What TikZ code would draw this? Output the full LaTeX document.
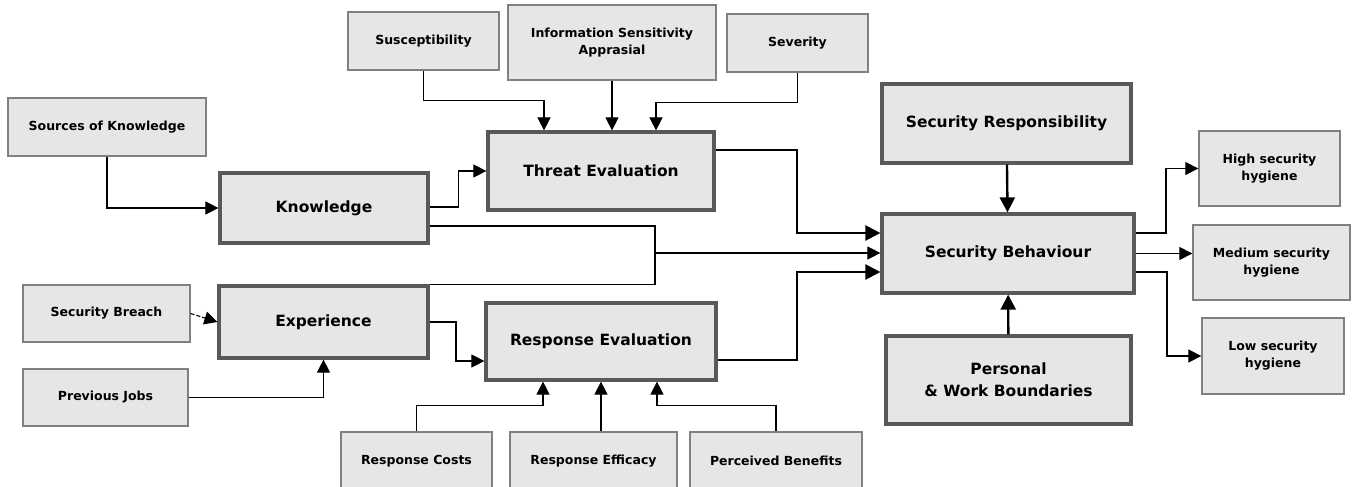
\documentclass[tikz,border=0pt]{standalone}
\usepackage{fontspec}
\setmainfont{DejaVu Sans}
\usetikzlibrary{arrows.meta}
\definecolor{boxfill}{HTML}{E6E6E6}
\definecolor{thinline}{HTML}{808080}
\definecolor{thickline}{HTML}{595959}
\begin{document}
\begin{tikzpicture}[x=1pt,y=-1pt,
		box/.style={draw=thinline,line width=1.3pt,fill=boxfill,inner sep=0pt,
			align=center,font=\fontsize{12.5}{17}\selectfont\bfseries},
		bigbox/.style={draw=thickline,line width=3.2pt,fill=boxfill,inner sep=0pt,
			align=center,font=\fontsize{15.5}{22}\selectfont\bfseries},
		arr/.style={line width=1.1pt,-{Triangle[length=13pt,width=13pt]}},
		thk/.style={line width=2.4pt,-{Triangle[length=15pt,width=15pt]}}]
		\useasboundingbox (0,0) rectangle (1353,487);
		% inputs
		\node[box,minimum width=198,minimum height=58] (src) at (107,127) {Sources of Knowledge};
		\node[box,minimum width=151,minimum height=58] (sus) at (423.5,41) {Susceptibility};
		\node[box,minimum width=208,minimum height=75] (info) at (612,42.5) {Information Sensitivity\\Apprasial};
		\node[box,minimum width=141,minimum height=58] (sev) at (797.5,43) {Severity};
		\node[box,minimum width=167,minimum height=57] (brc) at (106.5,313.5) {Security Breach};
		\node[box,minimum width=165,minimum height=57] (job) at (105.5,397.5) {Previous Jobs};
		\node[box,minimum width=151,minimum height=58] (cst) at (416.5,461) {Response Costs};
		\node[box,minimum width=167,minimum height=58] (eff) at (593.5,461) {Response Efficacy};
		\node[box,minimum width=172,minimum height=58] (ben) at (776,461) {Perceived Benefits};
		% main boxes
		\node[bigbox,minimum width=208,minimum height=70] (know) at (324,208) {Knowledge};
		\node[bigbox,minimum width=209,minimum height=72] (exp) at (323.5,322) {Experience};
		\node[bigbox,minimum width=226,minimum height=78] (thr) at (601,171) {Threat Evaluation};
		\node[bigbox,minimum width=230,minimum height=77] (re) at (601,341.5) {Response Evaluation};
		\node[bigbox,minimum width=249,minimum height=79] (sr) at (1006.5,123.5) {Security Responsibility};
		\node[bigbox,minimum width=252,minimum height=79] (sb) at (1008,253.5) {Security Behaviour};
		\node[bigbox,minimum width=245,minimum height=88] (pwb) at (1008.5,380) {Personal\\\& Work Boundaries};
		% outcomes
		\node[box,minimum width=141,minimum height=75] (hi) at (1269.5,168.5) {High security\\hygiene};
		\node[box,minimum width=157,minimum height=75] (med) at (1271.5,262.5) {Medium security\\hygiene};
		\node[box,minimum width=142,minimum height=76] (low) at (1273,356) {Low security\\hygiene};
		\coordinate (j) at (655,253);
		
		\draw[arr] (src) |- (know);
		\draw[arr] ([yshift=1pt]know.east) -- ++(29,0) |- (thr.west);
		\draw[line width=1.1pt] ([yshift=-18pt]know.east) -| (j) |- (exp.north east);
		\draw[arr] (j) -- (j -| sb.west);
		\draw[arr,dash pattern=on 4pt off 2pt] (brc.east) -- (exp.west);
		\draw[arr] (job) -| (exp);
		\draw[arr] (exp.east) -| (456,361) -- ([yshift=-19.5pt]re.west);
		\draw[arr] (sus.south) -- ++(0,30) -| ([xshift=-57pt]thr.north);
		\draw[arr] (info.south) -- (info.south |- thr.north);
		\draw[arr] (sev.south) -- ++(0,30) -| ([xshift=55pt]thr.north);
		\draw[arr] (cst.north) -- ++(0,-26) -| ([xshift=-58pt]re.south);
		\draw[arr] (re.south |- eff.north) -- (re.south);
		\draw[arr] (ben.north) -- ++(0,-26) -| ([xshift=56pt]re.south);
		\draw[thk] ([yshift=21pt]thr.east) -| (797,233) -- ([yshift=20.5pt]sb.west);
		\draw[thk] ([yshift=-18.5pt]re.east) -| (797,272) -- ([yshift=-18.5pt]sb.west);
		\draw[thk] (sr) -- (sb);
		\draw[thk] (pwb) -- (sb);
		\draw[arr] ([yshift=20.5pt]sb.east) -| (1166,168.5) -- (hi.west);
		\draw[arr] (sb.east) -- (sb.east -| med.west);
		\draw[arr] ([yshift=-18.5pt]sb.east) -| (1167,356) -- (low.west);
\end{tikzpicture}
\end{document}
